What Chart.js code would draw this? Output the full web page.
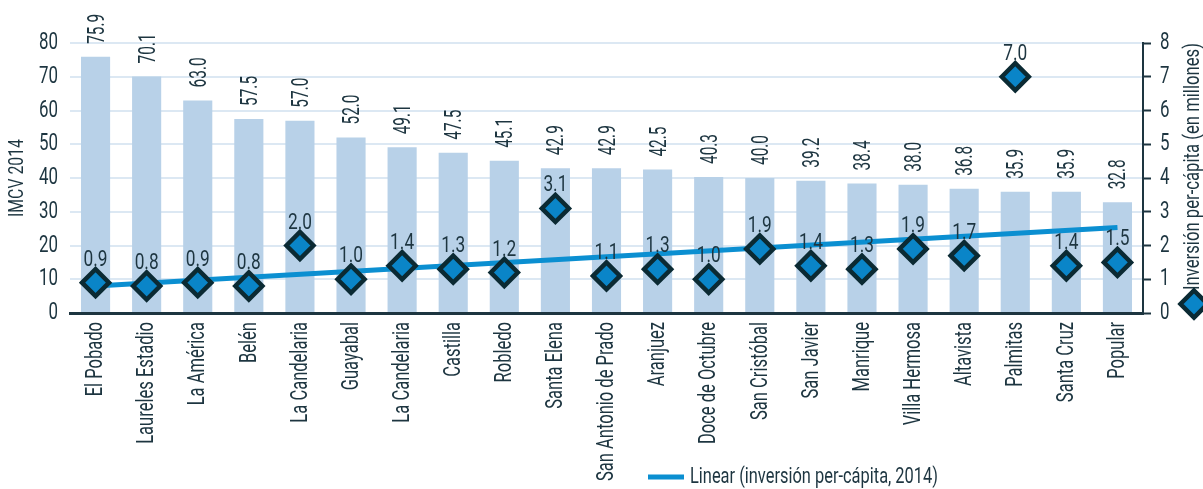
<!DOCTYPE html>
<html><head><meta charset="utf-8">
<script src="https://cdn.jsdelivr.net/npm/chart.js@4.4.1/dist/chart.umd.min.js"></script>
<style>html,body{margin:0;padding:0;background:#fff}#wrap{width:1203px;height:489px}</style>
</head><body><div id="wrap"><canvas id="c" width="1203" height="489"></canvas></div>
<script>
const categories = ["El Pobado","Laureles Estadio","La América","Belén","La Candelaria","Guayabal","La Candelaria","Castilla","Robledo","Santa Elena","San Antonio de Prado","Aranjuez","Doce de Octubre","San Cristóbal","San Javier","Manrique","Villa Hermosa","Altavista","Palmitas","Santa Cruz","Popular"];
const imcv = [75.9,70.1,63.0,57.5,57.0,52.0,49.1,47.5,45.1,42.9,42.9,42.5,40.3,40.0,39.2,38.4,38.0,36.8,35.9,35.9,32.8];
const inversion = [0.9,0.8,0.9,0.8,2.0,1.0,1.4,1.3,1.2,3.1,1.1,1.3,1.0,1.9,1.4,1.3,1.9,1.7,7.0,1.4,1.5];
const trendEnds = [0.8, 2.53];
const leftTicks = [0,10,20,30,40,50,60,70,80];
const rightTicks = [0,1,2,3,4,5,6,7,8];
const leftTitle = 'IMCV 2014';
const rightTitle = 'Inversión per-cápita (en millones)';
const legendText = 'Linear (inversión per-cápita, 2014)';

const FONT = "Roboto,'DejaVu Sans',sans-serif";
const TXT = '#1d3540';
const DFILL = '#0a85c8', DSTROKE = '#0b2a33', TREND = '#0b8fd1';

const trendData = categories.map((c,i)=> i===0 ? trendEnds[0] : (i===categories.length-1 ? trendEnds[1] : null));

function diamond(ctx,x,y,r){
  ctx.save();
  ctx.beginPath();
  ctx.moveTo(x,y-r);ctx.lineTo(x+r,y);ctx.lineTo(x,y+r);ctx.lineTo(x-r,y);ctx.closePath();
  ctx.fillStyle=DFILL;ctx.fill();
  ctx.lineWidth=4.5;ctx.strokeStyle=DSTROKE;ctx.lineJoin='miter';ctx.stroke();
  ctx.restore();
}
function calib(ctx,size,sample,target){
  ctx.save();ctx.font=size+'px '+FONT;const w=ctx.measureText(sample).width;ctx.restore();
  return target/w;
}
function txt(ctx,s,x,y,o){
  ctx.save();
  ctx.font=o.size+'px '+FONT;
  ctx.fillStyle=TXT;
  ctx.translate(x,y);
  if(o.rot) ctx.rotate(o.rot);
  ctx.scale(o.sx,1);
  ctx.textAlign=o.align||'left';
  ctx.textBaseline=o.baseline||'alphabetic';
  ctx.fillText(s,0,0);
  ctx.restore();
}

const labelsPlugin = {
  id:'labels',
  afterDatasetsDraw(chart){
    const ctx = chart.ctx;
    const ys = chart.scales.y, y1 = chart.scales.y1, xs = chart.scales.x;
    const R = -Math.PI/2;
    const sxBar = calib(ctx,24,'75.9',30);
    chart.getDatasetMeta(0).data.forEach((el,i)=>{
      txt(ctx,imcv[i].toFixed(1),el.x+2,el.y-13,{size:24,sx:sxBar,rot:R,align:'left',baseline:'middle'});
    });
    const sxD = calib(ctx,22,'0.9',24);
    chart.getDatasetMeta(2).data.forEach((el,i)=>{
      txt(ctx,inversion[i].toFixed(1),el.x,el.y-17,{size:22,sx:sxD,align:'center',baseline:'alphabetic'});
    });
    const sxT = calib(ctx,24,'80',19);
    leftTicks.forEach(v=>txt(ctx,String(v),58,ys.getPixelForValue(v),{size:24,sx:sxT,align:'right',baseline:'middle'}));
    rightTicks.forEach(v=>txt(ctx,String(v),1160,y1.getPixelForValue(v),{size:24,sx:sxT,align:'left',baseline:'middle'}));
    const sxC = calib(ctx,23,'San Antonio de Prado',159);
    categories.forEach((c,i)=>{
      txt(ctx,c,xs.getPixelForValue(i)+1,322,{size:23,sx:sxC,rot:R,align:'right',baseline:'middle'});
    });
    const sxL = calib(ctx,21,leftTitle,78);
    txt(ctx,leftTitle,18,(ys.top+ys.bottom)/2,{size:21,sx:sxL,rot:R,align:'center',baseline:'middle'});
    const sxR = calib(ctx,22,rightTitle,247);
    txt(ctx,rightTitle,1193,290,{size:22,sx:sxR,rot:R,align:'left',baseline:'middle'});
    diamond(ctx,1194,304,13.5);
    ctx.save();
    ctx.strokeStyle=TREND;ctx.lineWidth=5;
    ctx.beginPath();ctx.moveTo(648,477);ctx.lineTo(684,477);ctx.stroke();
    ctx.restore();
    const sxG = calib(ctx,22,legendText,248);
    txt(ctx,legendText,690,477,{size:22,sx:sxG,align:'left',baseline:'middle'});
  }
};

const clear = 'rgba(0,0,0,0)';
new Chart(document.getElementById('c'),{
  type:'bar',
  data:{
    labels:categories,
    datasets:[
      {type:'bar',label:'IMCV 2014',data:imcv,backgroundColor:'#b8d1e8',barPercentage:0.57,categoryPercentage:1,yAxisID:'y',order:3},
      {type:'line',label:legendText,data:trendData,spanGaps:true,borderColor:TREND,borderWidth:5,pointRadius:0,yAxisID:'y1',order:2},
      {type:'line',label:rightTitle,data:inversion,showLine:false,pointStyle:'rectRot',pointRadius:13.5,pointHoverRadius:13.5,pointBackgroundColor:DFILL,pointBorderColor:DSTROKE,pointBorderWidth:4.5,yAxisID:'y1',order:1}
    ]
  },
  options:{
    responsive:false,animation:false,
    layout:{padding:{left:0,right:20,top:43,bottom:0}},
    plugins:{legend:{display:false},tooltip:{enabled:false}},
    scales:{
      x:{
        grid:{display:false},
        border:{display:true,color:'#1d3540',width:3},
        ticks:{color:clear,font:{size:10},maxRotation:90,minRotation:90,autoSkip:false},
        afterFit(s){s.height=176;}
      },
      y:{
        position:'left',min:0,max:80,
        afterBuildTicks(s){s.ticks=leftTicks.map(v=>({value:v}));},
        grid:{color:'#dce8f3',lineWidth:2,drawTicks:false},
        border:{display:false},
        ticks:{color:clear,font:{size:10}},
        afterFit(s){s.width=70;}
      },
      y1:{
        position:'right',min:0,max:8,
        afterBuildTicks(s){s.ticks=rightTicks.map(v=>({value:v}));},
        grid:{drawOnChartArea:false,drawTicks:true,tickLength:8,color:'#1d3540',tickWidth:2},
        border:{display:true,color:'#1d3540',width:2},
        ticks:{color:clear,font:{size:10}},
        afterFit(s){s.width=40;}
      }
    }
  },
  plugins:[labelsPlugin]
});
</script></body></html>
